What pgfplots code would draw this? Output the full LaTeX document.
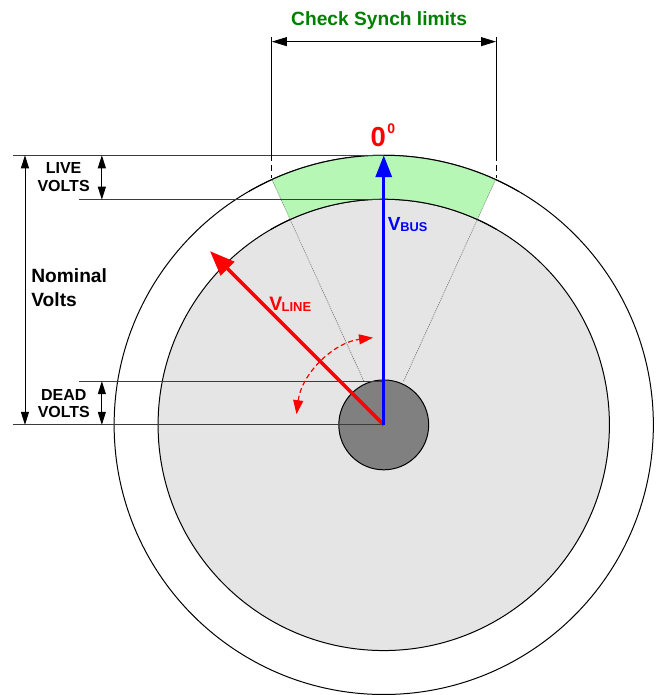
\documentclass[border=0pt]{standalone}
\usepackage{fontspec}
\setmainfont{Liberation Sans}
\usepackage{pgfplots}
\pgfplotsset{compat=1.18}
\usetikzlibrary{arrows.meta}
\definecolor{sgreen}{RGB}{0,128,0}
\definecolor{lgreen}{RGB}{182,247,182}
\definecolor{lgray}{RGB}{229,229,229}
\definecolor{dgray}{RGB}{128,128,128}
\definecolor{dline}{RGB}{60,60,60}
\definecolor{dotc}{RGB}{100,100,100}
\begin{document}
\begin{tikzpicture}
\begin{axis}[x=1bp,y=1bp,xmin=0,xmax=658,ymin=0,ymax=695,hide axis,clip=false]
\path (axis cs:0,0) rectangle (axis cs:658,695);
% outer circle
\draw[line width=1bp] (axis cs:384.3,269.5) circle[radius=270bp];
% inner circle
\draw[fill=lgray, line width=1bp] (axis cs:384.3,269.5) circle[radius=226bp];
% green sector (check synch window)
\fill[lgreen] (axis cs:384.3,269.5) ++(65.5:270bp) arc[start angle=65.5,end angle=114.5,radius=270bp] -- ++(114.5:-44bp) arc[start angle=114.5,end angle=65.5,radius=226bp] -- cycle;
\draw[line width=1bp] (axis cs:384.3,269.5) ++(60:270bp) arc[start angle=60,end angle=120,radius=270bp];
\draw[line width=1bp] (axis cs:384.3,269.5) ++(60:226bp) arc[start angle=60,end angle=120,radius=226bp];
% dotted limit lines
\addplot[dotc, line width=0.7bp, dash pattern=on 1bp off 1.2bp] coordinates {(364.4,313.2) (272.3,515.2)};
\addplot[dotc, line width=0.7bp, dash pattern=on 1bp off 1.2bp] coordinates {(404.2,313.2) (496.3,515.2)};
% small centre circle
\draw[fill=dgray, line width=1bp] (axis cs:384.3,269.5) circle[radius=45bp];
% horizontal reference lines
\addplot[dline, line width=0.9bp] coordinates {(13,539.5) (384.3,539.5)};
\addplot[dline, line width=0.9bp] coordinates {(79,495) (384.3,495)};
\addplot[dline, line width=0.9bp] coordinates {(79,313.3) (384.3,313.3)};
\addplot[dline, line width=0.9bp] coordinates {(13,269.5) (384.3,269.5)};
% dashed rotation arc
\draw[red, line width=1.2bp, dash pattern=on 5bp off 3bp, {Triangle[length=14bp,width=10bp]}-{Triangle[length=14bp,width=10bp]}] (axis cs:384.3,269.5) ++(173:88bp) arc[start angle=173,end angle=97,radius=88bp];
% V_LINE arrow
\addplot[red, line width=3.5bp, -{Triangle[length=25bp,width=19bp]}] coordinates {(384.3,269.5) (210.3,443.5)};
% V_BUS arrow
\addplot[blue, line width=3.5bp, -{Triangle[length=22bp,width=16bp]}] coordinates {(384.3,269.5) (384.3,539.5)};
% check synch limit lines
\addplot[black, line width=0.9bp] coordinates {(272.3,658) (272.3,539.5)};
\addplot[black, line width=0.9bp] coordinates {(496.7,658) (496.7,539.5)};
\addplot[black, line width=0.9bp, dash pattern=on 6bp off 4bp] coordinates {(272.3,539.5) (272.3,517)};
\addplot[black, line width=0.9bp, dash pattern=on 6bp off 4bp] coordinates {(496.7,539.5) (496.7,517)};
\addplot[black, line width=0.9bp, {Triangle[length=15bp,width=9bp]}-{Triangle[length=15bp,width=9bp]}] coordinates {(272.3,653.3) (496.7,653.3)};
% left dimension arrows
\addplot[black, line width=0.9bp, {Triangle[length=13bp,width=8bp]}-{Triangle[length=13bp,width=8bp]}] coordinates {(25,539.5) (25,269.5)};
\addplot[black, line width=0.9bp, {Triangle[length=13bp,width=8bp]}-{Triangle[length=13bp,width=8bp]}] coordinates {(102,539.5) (102,495)};
\addplot[black, line width=0.9bp, {Triangle[length=13bp,width=8bp]}-{Triangle[length=13bp,width=8bp]}] coordinates {(102,313.3) (102,269.5)};
% texts
\node[anchor=base, inner sep=0pt, text=sgreen, font=\bfseries\fontsize{19.2bp}{22bp}\selectfont] at (axis cs:379.7,669) {Check Synch limits};
\node[anchor=base west, inner sep=0pt, text=red, font=\bfseries\fontsize{27.5bp}{30bp}\selectfont] at (axis cs:371,548.3) {0};
\node[anchor=base west, inner sep=0pt, text=red, font=\bfseries\fontsize{14bp}{16bp}\selectfont] at (axis cs:387.8,561.7) {0};
\node[anchor=base west, inner sep=0pt, text=blue, font=\bfseries\fontsize{19bp}{22bp}\selectfont] at (axis cs:388.3,464.3) {V};
\node[anchor=base west, inner sep=0pt, text=blue, font=\bfseries\fontsize{12.8bp}{15bp}\selectfont] at (axis cs:400.7,462.7) {BUS};
\node[anchor=base west, inner sep=0pt, text=red, font=\bfseries\fontsize{19.5bp}{22bp}\selectfont] at (axis cs:269.5,384) {V};
\node[anchor=base west, inner sep=0pt, text=red, font=\bfseries\fontsize{13bp}{15bp}\selectfont] at (axis cs:281.8,382.7) {LINE};
\node[anchor=base west, inner sep=0pt, font=\bfseries\fontsize{19.2bp}{22bp}\selectfont] at (axis cs:31.2,411.7) {Nominal};
\node[anchor=base west, inner sep=0pt, font=\bfseries\fontsize{19.2bp}{22bp}\selectfont] at (axis cs:31.2,388.3) {Volts};
\node[anchor=base, inner sep=0pt, font=\bfseries\fontsize{16bp}{18bp}\selectfont] at (axis cs:63.7,521.7) {LIVE};
\node[anchor=base, inner sep=0pt, font=\bfseries\fontsize{16bp}{18bp}\selectfont] at (axis cs:63.7,503.3) {VOLTS};
\node[anchor=base, inner sep=0pt, font=\bfseries\fontsize{16bp}{18bp}\selectfont] at (axis cs:63.9,294) {DEAD};
\node[anchor=base, inner sep=0pt, font=\bfseries\fontsize{16bp}{18bp}\selectfont] at (axis cs:63.9,276.7) {VOLTS};
\end{axis}
\end{tikzpicture}
\end{document}
